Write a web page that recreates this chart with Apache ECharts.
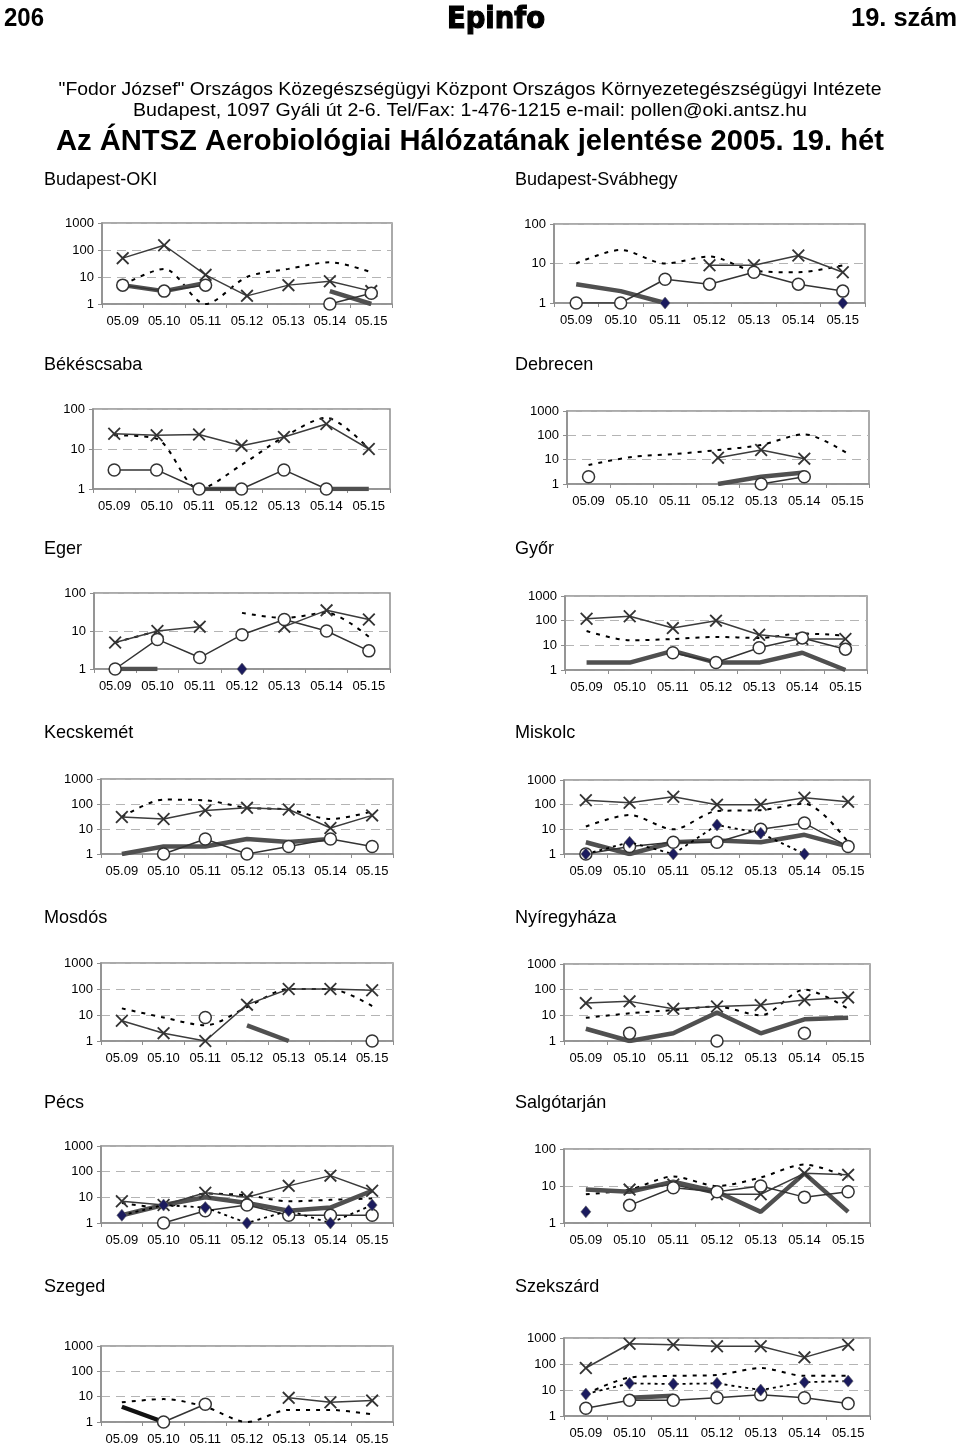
<!DOCTYPE html>
<html>
<head>
<meta charset="utf-8">
<script src="https://cdn.jsdelivr.net/npm/echarts@6/dist/echarts.min.js"></script>
<style>
html,body{margin:0;padding:0;background:#fff;}
#c{width:960px;height:1446px;}
</style>
</head>
<body>
<div id="c"></div>
<script>
// ---------- DATA ----------
const categories = ['05.09','05.10','05.11','05.12','05.13','05.14','05.15'];
const stations = ['Budapest-OKI','Budapest-Svábhegy','Békéscsaba','Debrecen','Eger','Győr',
  'Kecskemét','Miskolc','Mosdós','Nyíregyháza','Pécs','Salgótarján','Szeged','Szekszárd'];
const yMax = [1000,100,100,1000,100,1000,1000,1000,1000,1000,1000,100,1000,1000];
const yTickLabels = ['1','10','100','1000'];

// thin solid line with X markers
const crossSeries = [
  [50,150,12,2,5,7,3],
  [null,null,null,9,9,16,6],
  [24,22,23,12,20,42,10],
  [null,null,null,12,25,11,null],
  [5,10,13,null,13,35,20],
  [120,150,50,100,27,18,18],
  [30,25,55,70,60,11,35],
  [150,120,210,100,100,190,130],
  [6,2,1,25,100,100,90],
  [30,35,18,22,25,40,50],
  [7,5,15,10,28,70,18],
  [null,8,11,6,6,22,20],
  [null,null,null,null,9,6,7],
  [70,600,550,480,480,180,550]
];
// dashed line
const dashSeries = [
  [5,20,1,10,20,35,15],
  [10,22,10,15,6.5,6,9],
  [22,18,1,4,20,60,10],
  [6,13,17,25,40,110,18],
  [5,10,null,30,22,30,7],
  [38,16,18,22,20,30,25],
  [30,150,140,70,60,25,50],
  [13,38,10,55,60,110,3],
  [18,8,4,20,100,100,22],
  [8,12,16,22,10,100,18],
  [6,4,14,12,7,8,9],
  [6,8,18,10,17,38,17],
  [6,8,4,1,3,3,2],
  [7,30,35,38,70,35,35]
];
// thin solid line with open circles
const circleSeries = [
  [5,3,5,null,null,1,2.5],
  [1,1,4,3,6,3,2],
  [3,3,1,1,3,1,null],
  [2,null,null,null,1,2,null],
  [1,6,2,8,20,10,3],
  [null,null,5,2,8,20,7],
  [null,1,4,1,2,4,2],
  [1,2,3,3,10,18,2],
  [null,null,8,null,null,null,1],
  [null,2,null,1,null,2,null],
  [null,1,3,5,2,2,2],
  [null,3,9,7,10,5,7],
  [null,1,5,null,null,null,null],
  [2,4,4,5,6.5,5,3]
];
// thick grey line
const thickSeries = [
  [5,3,6,null,null,3,1],
  [3,2,1,null,null,null,null],
  [null,null,1,1,null,1,1],
  [null,null,null,1,2,3,null],
  [1,1,null,null,null,null,null],
  [2,2,6,2,2,5,1],
  [1,2,2,4,3,4,null],
  [3,1,3,3.5,3,6,2],
  [null,null,null,4,1,null,null],
  [3,1,2,13,2,7,8],
  [2,5,10,6,3,4,18],
  [8,7,13,7,2,22,2],
  [4,1,null,null,null,null,null],
  [null,5,6,null,null,null,null]
];
// dotted line with dark diamonds
const diamondSeries = [
  [null,null,null,null,null,null,null],
  [null,null,1,null,null,null,1],
  [null,null,null,null,null,null,null],
  [null,null,null,null,null,null,null],
  [null,null,null,1,null,null,null],
  [null,null,null,null,null,null,null],
  [null,null,null,null,null,null,null],
  [1,3,1,15,7,1,null],
  [null,null,null,null,null,null,null],
  [null,null,null,null,null,null,null],
  [2,5,4,1,3,1,5],
  [2,null,null,null,null,null,null],
  [null,null,null,null,null,null,null],
  [7,18,17,18,10,20,22]
];

const headerLeft = '206';
const headerCenter = 'Epinfo';
const headerRight = '19. szám';
const instLine1 = '"Fodor József" Országos Közegészségügyi Központ Országos Környezetegészségügyi Intézete';
const instLine2 = 'Budapest, 1097 Gyáli út 2-6. Tel/Fax: 1-476-1215 e-mail: pollen@oki.antsz.hu';
const mainTitle = 'Az ÁNTSZ Aerobiológiai Hálózatának jelentése 2005. 19. hét';

// ---------- LAYOUT ----------
// [left, top, width, height] of each plot area
const panelLayout = [
  [102,223,290,81],[554,224,311,79],
  [93,409,297,80],[567,411,302,73],
  [94,593,296,76],[565,596,302,74],
  [101,779,292,75],[564,780,306,74],
  [101,963,292,78],[564,964,306,77],
  [101,1146,292,77],[564,1149,306,74],
  [101,1346,292,76],[564,1338,306,78]
];
const titleRows = [180,365,549,733,918,1103,1287];

const FONT = '"Liberation Sans", Arial, sans-serif';
const mctx = document.createElement('canvas').getContext('2d');
function fitScale(text, font, target){ mctx.font = font; return target / mctx.measureText(text).width; }

const grids=[], xAxes=[], yAxes=[], series=[], graphics=[];
const crossPath = 'path://M1,0L5,4L9,0L10,1L6,5L10,9L9,10L5,6L1,10L0,9L4,5L0,1Z';

stations.forEach((name,i)=>{
  const L = panelLayout[i];
  grids.push({left:L[0], top:L[1], width:L[2], height:L[3], show:true,
    borderColor:'#8e8e8e', borderWidth:1.5, backgroundColor:'transparent', containLabel:false});
  xAxes.push({type:'category', gridIndex:i, data:categories, boundaryGap:true,
    axisLine:{show:true, lineStyle:{color:'#8e8e8e', width:1.5}},
    axisTick:{show:true, inside:false, length:4, lineStyle:{color:'#8e8e8e'}},
    axisLabel:{color:'#000', fontSize:13, fontFamily:FONT, margin:11, interval:0},
    splitLine:{show:false}});
  yAxes.push({type:'log', logBase:10, min:1, max:yMax[i], gridIndex:i,
    axisLine:{show:true, lineStyle:{color:'#8e8e8e', width:1.5}},
    axisTick:{show:true, length:4, lineStyle:{color:'#8e8e8e'}},
    minorTick:{show:false}, minorSplitLine:{show:false},
    splitLine:{show:true, lineStyle:{color:'#b4b4b4', type:[9,6], width:1}},
    axisLabel:{color:'#000', fontSize:13, fontFamily:FONT, margin:8,
      formatter:(v)=>{const k=Math.round(Math.log10(v)); return yTickLabels[k]!==undefined?yTickLabels[k]:String(v);}}});
  const base = {xAxisIndex:i, yAxisIndex:i, type:'line', animation:false, connectNulls:false};
  series.push(Object.assign({}, base, {name:'dash'+i, data:dashSeries[i], symbol:'none', smooth:0.3,
    lineStyle:{color:'#000', width:2, type:[4,6]}, z:2}));
  series.push(Object.assign({}, base, {name:'thick'+i, data:thickSeries[i], symbol:'none',
    lineStyle:{color: i===12 ? '#111' : '#505050', width:4.5}, z:3}));
  series.push(Object.assign({}, base, {name:'cross'+i, data:crossSeries[i], symbol:crossPath, symbolSize:13,
    showAllSymbol:true, itemStyle:{color:'#333'}, lineStyle:{color:'#3c3c3c', width:1.5}, z:4}));
  series.push(Object.assign({}, base, {name:'circle'+i, data:circleSeries[i], symbol:'circle', symbolSize:12,
    showAllSymbol:true, itemStyle:{color:'#fff', borderColor:'#333', borderWidth:1.5},
    lineStyle:{color:'#333', width:1.5}, z:5}));
  series.push(Object.assign({}, base, {name:'diamond'+i, data:diamondSeries[i], symbol:'diamond', symbolSize:[10,12],
    showAllSymbol:true, itemStyle:{color:'#1b1b5e', borderColor:'#666', borderWidth:0.6},
    lineStyle:{color:'#000', width:1.8, type:[3,4]}, z:6}));
  const col = i % 2, row = Math.floor(i/2);
  graphics.push({type:'text', x: col===0 ? 44 : 515, y: titleRows[row], scaleX:0.95,
    style:{text:name, font:'19px '+FONT, fill:'#000', align:'left', verticalAlign:'middle'}});
});

// header texts
const fL1 = '18px '+FONT, fT = 'bold 29px '+FONT, fH = 'bold 26px '+FONT;
graphics.push({type:'text', x:4, y:19, scaleX:fitScale(headerLeft,fH,40),
  style:{text:headerLeft, font:fH, fill:'#000', align:'left', verticalAlign:'middle'}});
graphics.push({type:'text', x:957, y:19, scaleX:fitScale(headerRight,fH,106),
  style:{text:headerRight, font:fH, fill:'#000', align:'right', verticalAlign:'middle'}});
graphics.push({type:'text', x:496, y:20, scaleX:fitScale(headerCenter,'bold 30px "DejaVu Sans"',98),
  style:{text:headerCenter, font:'bold 30px "DejaVu Sans"', fill:'#000', align:'center', verticalAlign:'middle',
    stroke:'#000', lineWidth:1.2}});
graphics.push({type:'text', x:470, y:90, scaleX:fitScale(instLine1,fL1,823),
  style:{text:instLine1, font:fL1, fill:'#000', align:'center', verticalAlign:'middle'}});
graphics.push({type:'text', x:470, y:111, scaleX:fitScale(instLine2,fL1,674),
  style:{text:instLine2, font:fL1, fill:'#000', align:'center', verticalAlign:'middle'}});
graphics.push({type:'text', x:470, y:142, scaleX:fitScale(mainTitle,fT,828),
  style:{text:mainTitle, font:fT, fill:'#000', align:'center', verticalAlign:'middle'}});

const chart = echarts.init(document.getElementById('c'), null, {renderer:'canvas', width:960, height:1446});
chart.setOption({
  backgroundColor:'#fff', animation:false,
  grid:grids, xAxis:xAxes, yAxis:yAxes, series:series, graphic:graphics
});
</script>
</body>
</html>
